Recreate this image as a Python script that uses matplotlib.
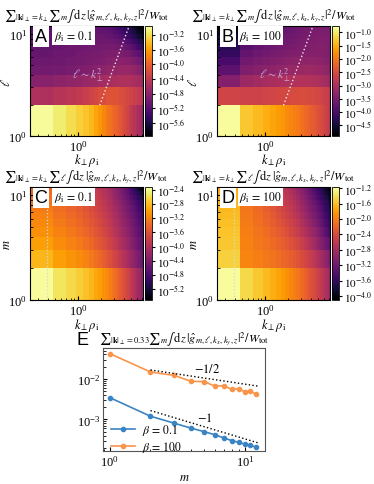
import numpy as np
import matplotlib
matplotlib.use("Agg")
from matplotlib import pyplot as plt
from matplotlib.colors import LogNorm
from matplotlib import ticker

plt.rcParams['font.family'] = 'serif'
plt.rcParams['font.serif'] = ['Liberation Serif', 'DejaVu Serif']
plt.rcParams['mathtext.fontset'] = 'stix'

# ---- grid of the heat maps (cell edges) ----
dk = 0.2333
k_edges = dk * np.arange(1, 32)        # k_perp rho_i, 30 columns
row_edges = np.arange(1, 13)            # ell or m, 11 rows
k_mark = 0.395                          # dotted marker of the k used in panel E

# ---- panel A : beta_i = 0.1, ell vs k (log10 of spectrum), rows ell=1..11 ----
A_log = [
    [-3.0,-3.12,-3.22,-3.3,-3.38,-3.45,-3.55,-3.65,-3.75,-3.85,-3.9,-3.95,-4.0,-4.05,-4.1,-4.15,-4.2,-4.25,-4.3,-4.35,-4.4,-4.45,-4.5,-4.5,-4.55,-4.6,-4.6,-4.65,-4.7,-4.75],
    [-4.55,-4.5,-4.45,-4.4,-4.35,-4.3,-4.25,-4.2,-4.2,-4.15,-4.15,-4.15,-4.15,-4.15,-4.2,-4.2,-4.2,-4.25,-4.25,-4.3,-4.3,-4.3,-4.35,-4.35,-4.35,-4.4,-4.4,-4.4,-4.45,-4.45],
    [-4.85,-4.8,-4.78,-4.75,-4.72,-4.7,-4.68,-4.65,-4.62,-4.6,-4.6,-4.58,-4.58,-4.55,-4.55,-4.55,-4.55,-4.55,-4.55,-4.55,-4.55,-4.58,-4.58,-4.6,-4.6,-4.62,-4.62,-4.65,-4.65,-4.68],
    [-5.0,-4.98,-4.95,-4.92,-4.9,-4.88,-4.85,-4.83,-4.8,-4.78,-4.77,-4.75,-4.75,-4.74,-4.73,-4.72,-4.72,-4.72,-4.72,-4.73,-4.74,-4.75,-4.76,-4.78,-4.8,-4.82,-4.84,-4.86,-4.88,-4.9],
    [-5.05,-5.02,-5.0,-4.98,-4.96,-4.95,-4.93,-4.92,-4.9,-4.88,-4.87,-4.86,-4.85,-4.85,-4.85,-4.85,-4.85,-4.85,-4.86,-4.87,-4.88,-4.9,-4.92,-4.94,-4.96,-4.98,-5.0,-5.02,-5.05,-5.08],
    [-5.08,-5.05,-5.03,-5.0,-4.98,-4.97,-4.96,-4.95,-4.94,-4.93,-4.92,-4.92,-4.92,-4.92,-4.93,-4.94,-4.95,-4.96,-4.98,-5.0,-5.02,-5.05,-5.08,-5.1,-5.12,-5.15,-5.18,-5.2,-5.22,-5.25],
    [-5.1,-5.08,-5.05,-5.03,-5.02,-5.0,-5.0,-4.99,-4.98,-4.98,-4.98,-4.98,-4.99,-5.0,-5.02,-5.04,-5.06,-5.08,-5.1,-5.13,-5.16,-5.2,-5.23,-5.26,-5.3,-5.33,-5.36,-5.4,-5.43,-5.46],
    [-5.12,-5.1,-5.08,-5.06,-5.05,-5.04,-5.03,-5.02,-5.02,-5.02,-5.03,-5.04,-5.06,-5.08,-5.1,-5.13,-5.16,-5.2,-5.23,-5.27,-5.3,-5.34,-5.38,-5.42,-5.45,-5.48,-5.52,-5.55,-5.58,-5.6],
    [-5.14,-5.12,-5.1,-5.08,-5.07,-5.06,-5.06,-5.06,-5.07,-5.08,-5.1,-5.12,-5.15,-5.18,-5.21,-5.25,-5.29,-5.33,-5.37,-5.41,-5.45,-5.49,-5.53,-5.57,-5.6,-5.64,-5.67,-5.7,-5.73,-5.76],
    [-5.16,-5.14,-5.12,-5.1,-5.1,-5.1,-5.1,-5.11,-5.12,-5.14,-5.16,-5.19,-5.22,-5.26,-5.3,-5.34,-5.38,-5.42,-5.46,-5.5,-5.54,-5.58,-5.62,-5.66,-5.7,-5.73,-5.77,-5.8,-5.83,-5.86],
    [-5.18,-5.16,-5.14,-5.13,-5.13,-5.13,-5.14,-5.15,-5.17,-5.19,-5.22,-5.25,-5.29,-5.33,-5.37,-5.41,-5.45,-5.5,-5.54,-5.58,-5.62,-5.66,-5.7,-5.74,-5.78,-5.82,-5.85,-5.88,-5.91,-5.94],
]

# ---- panel B : beta_i = 100, ell vs k ----
B_log = [
    [-0.8,-1.3,-1.42,-1.52,-1.6,-1.67,-1.73,-1.8,-1.86,-1.92,-1.97,-2.02,-2.07,-2.12,-2.17,-2.21,-2.25,-2.29,-2.33,-2.37,-2.41,-2.45,-2.49,-2.53,-2.57,-2.6,-2.64,-2.68,-2.72,-2.76],
    [-2.6,-2.62,-2.62,-2.6,-2.58,-2.56,-2.55,-2.53,-2.52,-2.5,-2.5,-2.49,-2.49,-2.49,-2.5,-2.5,-2.51,-2.52,-2.53,-2.55,-2.56,-2.58,-2.6,-2.62,-2.64,-2.66,-2.68,-2.7,-2.72,-2.74],
    [-3.4,-3.15,-3.1,-3.05,-3.02,-3.0,-2.98,-2.96,-2.95,-2.94,-2.93,-2.92,-2.92,-2.92,-2.92,-2.93,-2.94,-2.95,-2.96,-2.97,-2.98,-3.0,-3.01,-3.03,-3.04,-3.06,-3.08,-3.1,-3.12,-3.14],
    [-3.8,-3.45,-3.38,-3.33,-3.3,-3.27,-3.25,-3.23,-3.21,-3.2,-3.19,-3.18,-3.17,-3.16,-3.16,-3.16,-3.16,-3.16,-3.17,-3.18,-3.19,-3.2,-3.21,-3.22,-3.23,-3.25,-3.27,-3.29,-3.31,-3.33],
    [-4.0,-3.6,-3.52,-3.47,-3.43,-3.4,-3.38,-3.36,-3.34,-3.33,-3.32,-3.31,-3.3,-3.3,-3.29,-3.29,-3.29,-3.29,-3.3,-3.3,-3.31,-3.32,-3.33,-3.34,-3.35,-3.36,-3.38,-3.4,-3.42,-3.44],
    [-4.2,-3.75,-3.65,-3.6,-3.55,-3.52,-3.5,-3.48,-3.46,-3.45,-3.44,-3.43,-3.42,-3.41,-3.4,-3.4,-3.39,-3.39,-3.39,-3.39,-3.39,-3.39,-3.4,-3.4,-3.41,-3.42,-3.43,-3.44,-3.45,-3.46],
    [-4.3,-3.85,-3.75,-3.68,-3.63,-3.6,-3.57,-3.55,-3.53,-3.51,-3.5,-3.49,-3.48,-3.47,-3.46,-3.45,-3.44,-3.43,-3.43,-3.42,-3.42,-3.42,-3.42,-3.42,-3.42,-3.43,-3.43,-3.44,-3.45,-3.46],
    [-4.4,-3.92,-3.82,-3.75,-3.7,-3.66,-3.63,-3.6,-3.58,-3.56,-3.54,-3.52,-3.51,-3.5,-3.49,-3.48,-3.47,-3.46,-3.45,-3.45,-3.44,-3.44,-3.44,-3.44,-3.44,-3.44,-3.45,-3.45,-3.46,-3.47],
    [-4.55,-4.0,-3.88,-3.8,-3.75,-3.71,-3.68,-3.65,-3.62,-3.6,-3.58,-3.56,-3.55,-3.53,-3.52,-3.51,-3.5,-3.49,-3.48,-3.47,-3.47,-3.46,-3.46,-3.46,-3.46,-3.46,-3.46,-3.47,-3.47,-3.48],
    [-4.7,-4.08,-3.95,-3.86,-3.8,-3.75,-3.72,-3.69,-3.66,-3.64,-3.62,-3.6,-3.58,-3.56,-3.55,-3.54,-3.53,-3.52,-3.51,-3.5,-3.49,-3.49,-3.48,-3.48,-3.48,-3.48,-3.48,-3.48,-3.49,-3.49],
    [-4.85,-4.15,-4.0,-3.92,-3.85,-3.8,-3.76,-3.72,-3.69,-3.67,-3.65,-3.63,-3.61,-3.59,-3.58,-3.57,-3.56,-3.55,-3.54,-3.53,-3.52,-3.51,-3.51,-3.5,-3.5,-3.5,-3.5,-3.5,-3.5,-3.51],
]

# ---- panel C : beta_i = 0.1, m vs k ----
C_log = [
    [-2.35,-2.55,-2.63,-2.7,-2.77,-2.85,-2.93,-3.0,-3.08,-3.15,-3.22,-3.29,-3.36,-3.43,-3.5,-3.56,-3.62,-3.68,-3.74,-3.8,-3.86,-3.91,-3.96,-4.01,-4.06,-4.11,-4.16,-4.2,-4.24,-4.28],
    [-2.85,-3.0,-3.07,-3.13,-3.2,-3.27,-3.34,-3.41,-3.48,-3.55,-3.62,-3.68,-3.74,-3.8,-3.86,-3.92,-3.98,-4.03,-4.08,-4.13,-4.18,-4.23,-4.28,-4.32,-4.36,-4.4,-4.44,-4.48,-4.52,-4.56],
    [-3.0,-3.12,-3.19,-3.26,-3.33,-3.4,-3.47,-3.54,-3.61,-3.68,-3.75,-3.81,-3.87,-3.93,-3.99,-4.05,-4.1,-4.15,-4.2,-4.25,-4.3,-4.35,-4.4,-4.44,-4.48,-4.52,-4.56,-4.6,-4.64,-4.68],
    [-3.1,-3.2,-3.27,-3.34,-3.41,-3.48,-3.55,-3.62,-3.69,-3.76,-3.83,-3.89,-3.95,-4.01,-4.07,-4.13,-4.18,-4.23,-4.28,-4.33,-4.38,-4.43,-4.48,-4.52,-4.56,-4.6,-4.64,-4.68,-4.72,-4.76],
    [-3.15,-3.26,-3.33,-3.4,-3.47,-3.54,-3.61,-3.68,-3.75,-3.82,-3.89,-3.95,-4.01,-4.07,-4.13,-4.19,-4.24,-4.29,-4.34,-4.39,-4.44,-4.49,-4.54,-4.58,-4.62,-4.66,-4.7,-4.74,-4.78,-4.82],
    [-3.2,-3.31,-3.38,-3.45,-3.52,-3.59,-3.66,-3.73,-3.8,-3.87,-3.94,-4.0,-4.06,-4.12,-4.18,-4.24,-4.3,-4.35,-4.4,-4.45,-4.5,-4.55,-4.6,-4.64,-4.68,-4.72,-4.76,-4.8,-4.84,-4.88],
    [-3.25,-3.36,-3.43,-3.5,-3.57,-3.64,-3.71,-3.78,-3.85,-3.92,-3.99,-4.05,-4.11,-4.17,-4.23,-4.29,-4.35,-4.4,-4.46,-4.51,-4.56,-4.61,-4.66,-4.7,-4.75,-4.79,-4.83,-4.87,-4.91,-4.95],
    [-3.3,-3.4,-3.47,-3.54,-3.61,-3.68,-3.75,-3.82,-3.89,-3.96,-4.03,-4.1,-4.16,-4.22,-4.28,-4.34,-4.4,-4.46,-4.52,-4.57,-4.62,-4.67,-4.72,-4.77,-4.82,-4.86,-4.9,-4.95,-5.0,-5.04],
    [-3.33,-3.44,-3.51,-3.58,-3.65,-3.72,-3.79,-3.86,-3.93,-4.0,-4.07,-4.14,-4.21,-4.27,-4.33,-4.4,-4.46,-4.52,-4.58,-4.64,-4.7,-4.75,-4.8,-4.85,-4.9,-4.95,-5.0,-5.05,-5.1,-5.15],
    [-3.36,-3.47,-3.54,-3.61,-3.68,-3.75,-3.82,-3.89,-3.96,-4.03,-4.1,-4.17,-4.24,-4.31,-4.38,-4.45,-4.51,-4.57,-4.64,-4.7,-4.76,-4.82,-4.88,-4.94,-5.0,-5.06,-5.12,-5.18,-5.24,-5.3],
    [-3.4,-3.5,-3.57,-3.64,-3.71,-3.78,-3.85,-3.92,-3.99,-4.06,-4.13,-4.2,-4.27,-4.34,-4.41,-4.48,-4.55,-4.62,-4.69,-4.76,-4.83,-4.9,-4.97,-5.04,-5.11,-5.18,-5.25,-5.32,-5.39,-5.46],
]

# ---- panel D : beta_i = 100, m vs k ----
D_log = [
    [-1.2,-1.45,-1.55,-1.63,-1.7,-1.76,-1.82,-1.88,-1.94,-2.0,-2.05,-2.1,-2.15,-2.2,-2.25,-2.3,-2.34,-2.38,-2.42,-2.46,-2.5,-2.54,-2.58,-2.62,-2.66,-2.7,-2.74,-2.78,-2.82,-2.86],
    [-1.5,-1.95,-2.0,-2.04,-2.08,-2.12,-2.16,-2.2,-2.24,-2.28,-2.32,-2.36,-2.4,-2.44,-2.48,-2.52,-2.56,-2.6,-2.64,-2.68,-2.72,-2.76,-2.8,-2.84,-2.88,-2.92,-2.96,-3.0,-3.04,-3.08],
    [-1.55,-1.98,-2.04,-2.09,-2.14,-2.19,-2.24,-2.29,-2.34,-2.39,-2.44,-2.49,-2.54,-2.59,-2.64,-2.69,-2.74,-2.79,-2.84,-2.89,-2.94,-2.99,-3.04,-3.08,-3.12,-3.16,-3.2,-3.24,-3.28,-3.32],
    [-1.58,-2.0,-2.07,-2.13,-2.19,-2.25,-2.31,-2.37,-2.43,-2.49,-2.55,-2.6,-2.65,-2.7,-2.75,-2.8,-2.85,-2.9,-2.95,-3.0,-3.05,-3.1,-3.15,-3.2,-3.25,-3.3,-3.35,-3.4,-3.44,-3.48],
    [-1.6,-2.02,-2.1,-2.17,-2.24,-2.31,-2.37,-2.43,-2.49,-2.55,-2.61,-2.67,-2.73,-2.79,-2.85,-2.9,-2.95,-3.0,-3.05,-3.1,-3.15,-3.2,-3.25,-3.3,-3.35,-3.4,-3.45,-3.5,-3.55,-3.6],
    [-1.62,-2.04,-2.12,-2.2,-2.28,-2.35,-2.42,-2.49,-2.56,-2.62,-2.68,-2.74,-2.8,-2.86,-2.92,-2.97,-3.02,-3.07,-3.12,-3.17,-3.22,-3.27,-3.32,-3.37,-3.42,-3.47,-3.52,-3.57,-3.62,-3.67],
    [-1.64,-2.06,-2.15,-2.23,-2.31,-2.39,-2.46,-2.53,-2.6,-2.67,-2.74,-2.8,-2.86,-2.92,-2.98,-3.04,-3.09,-3.14,-3.19,-3.24,-3.29,-3.34,-3.39,-3.44,-3.49,-3.54,-3.59,-3.64,-3.69,-3.74],
    [-1.66,-2.08,-2.17,-2.26,-2.34,-2.42,-2.5,-2.57,-2.64,-2.71,-2.78,-2.85,-2.91,-2.97,-3.03,-3.09,-3.15,-3.21,-3.26,-3.31,-3.36,-3.41,-3.46,-3.51,-3.56,-3.61,-3.66,-3.71,-3.76,-3.81],
    [-1.68,-2.1,-2.2,-2.29,-2.38,-2.46,-2.54,-2.61,-2.68,-2.75,-2.82,-2.89,-2.96,-3.02,-3.08,-3.14,-3.2,-3.26,-3.32,-3.38,-3.44,-3.49,-3.54,-3.59,-3.64,-3.69,-3.74,-3.79,-3.84,-3.89],
    [-1.7,-2.12,-2.22,-2.32,-2.41,-2.49,-2.57,-2.65,-2.72,-2.79,-2.86,-2.93,-3.0,-3.07,-3.14,-3.2,-3.26,-3.32,-3.38,-3.44,-3.5,-3.56,-3.62,-3.67,-3.72,-3.77,-3.82,-3.87,-3.92,-3.97],
    [-1.72,-2.15,-2.25,-2.35,-2.44,-2.52,-2.6,-2.68,-2.76,-2.84,-2.91,-2.98,-3.05,-3.12,-3.19,-3.26,-3.33,-3.39,-3.45,-3.51,-3.57,-3.63,-3.69,-3.74,-3.79,-3.84,-3.89,-3.94,-3.99,-4.04],
]

# colour ranges (log10) and colourbar tick exponents
A_range, A_ticks = (-5.95, -2.96), [-3.2, -3.6, -4.0, -4.4, -4.8, -5.2, -5.6]
B_range, B_ticks = (-4.9, -0.76), [-1.0, -1.5, -2.0, -2.5, -3.0, -3.5, -4.0, -4.5]
C_range, C_ticks = (-5.5, -2.32), [-2.4, -2.8, -3.2, -3.6, -4.0, -4.4, -4.8, -5.2]
D_range, D_ticks = (-4.1, -1.17), [-1.2, -1.6, -2.0, -2.4, -2.8, -3.2, -3.6, -4.0]

# ---- panel E : m spectrum at |k|_perp = 0.33 ----
m_vals = [1, 2, 3, 4, 5, 6, 7, 8, 9, 10, 11, 12]
spec_b01 = [3.45e-3, 1.2e-3, 8.1e-4, 6.1e-4, 5.0e-4, 4.2e-4, 3.5e-4, 3.0e-4, 2.75e-4, 2.45e-4, 2.3e-4, 2.1e-4]
spec_b100 = [0.042, 0.0148, 0.0122, 0.0087, 0.0086, 0.0066, 0.0068, 0.0055, 0.0057, 0.0048, 0.0051, 0.0042]

W, H = 374, 485
fig = plt.figure(figsize=(W / 100, H / 100), dpi=100)


def rect(x0, y0, x1, y1):
    return [x0 / W, 1 - y1 / H, (x1 - x0) / W, (y1 - y0) / H]


def fmt_exp(v, pos=None):
    return r'$10^{%.1f}$' % np.log10(v)


g_hat = r'\,\mathrm{d}z\,|\hat{g}_{m,\ell,k_x,k_y,z}|^2/W_\mathrm{tot}$'
title_l = r'${\sum}_{|\mathbf{k}|_\perp=k_\perp}{\sum}_m\int' + g_hat
title_m = r'${\sum}_{|\mathbf{k}|_\perp=k_\perp}{\sum}_\ell\int' + g_hat
title_e = r'${\sum}_{|\mathbf{k}|_\perp=0.33}{\sum}_m\int' + g_hat
TFS = 8.8

panels = [
    ('A', A_log, A_range, A_ticks, r'$\beta_\mathrm{i}\,=\,0.1$', title_l, r'$\ell$', (30, 27, 143, 137), 1.94),
    ('B', B_log, B_range, B_ticks, r'$\beta_\mathrm{i}\,=\,100$', title_l, r'$\ell$', (217, 27, 330, 137), 1.76),
    ('C', C_log, C_range, C_ticks, r'$\beta_\mathrm{i}\,=\,0.1$', title_m, r'$m$', (30, 188, 143, 301), None),
    ('D', D_log, D_range, D_ticks, r'$\beta_\mathrm{i}\,=\,100$', title_m, r'$m$', (217, 188, 330, 301), None),
]

for lab, vals, rng, cticks, btxt, ttl, ylab, (x0, y0, x1, y1), k_line in panels:
    ax = fig.add_axes(rect(x0, y0, x1, y1))
    cax = fig.add_axes(rect(x1 + 2, y0, x1 + 9, y1))
    Z = 10.0 ** np.array(vals)
    pc = ax.pcolormesh(k_edges, row_edges, Z, cmap='inferno',
                       norm=LogNorm(10 ** rng[0], 10 ** rng[1]))
    ax.set_xscale('log')
    ax.set_yscale('log')
    ax.set_xlim(k_edges[0], k_edges[-1])
    ax.set_ylim(row_edges[0], row_edges[-1])
    ax.tick_params(which='both', direction='in', labelsize=9, pad=2)
    ax.tick_params(which='major', length=3)
    ax.tick_params(which='minor', length=1.8)
    ax.xaxis.set_minor_formatter(ticker.NullFormatter())
    ax.yaxis.set_minor_formatter(ticker.NullFormatter())
    ax.set_xlabel(r'$k_\perp\rho_\mathrm{i}$', fontsize=9)
    ax.xaxis.set_label_coords(0.5, -0.14)
    ax.set_ylabel(ylab, fontsize=9)
    ax.yaxis.set_label_coords(-0.15, 0.5)
    ax.set_title(ttl, fontsize=TFS, pad=5)

    if k_line is not None:
        kk = np.linspace(k_line, k_line * np.sqrt(6.0), 20)
        ax.plot(kk, 2.0 * (kk / k_line) ** 2, ls=':', color='#f0e8f0', lw=1)
        ax.text(0.51, 0.565, r'$\ell\sim k_\perp^2$', transform=ax.transAxes,
                color='#c8a8d8', fontsize=8.5, ha='center', va='center')
    else:
        ax.axvline(k_mark, ls=':', color='#d8d8d8', lw=0.9)

    ax.text(0.097, 0.905, lab, transform=ax.transAxes, fontsize=13,
            family='Liberation Sans', ha='center', va='center',
            bbox=dict(fc='white', ec='none', pad=1.2))
    ax.text(0.385, 0.914, btxt, transform=ax.transAxes, fontsize=8.5,
            ha='center', va='center', bbox=dict(fc='white', ec='none', pad=1.2))

    cb = fig.colorbar(pc, cax=cax)
    cb.set_ticks([10 ** t for t in cticks])
    cb.ax.yaxis.set_major_formatter(ticker.FuncFormatter(fmt_exp))
    cb.ax.yaxis.set_minor_locator(ticker.NullLocator())
    cb.ax.tick_params(labelsize=8, length=2, pad=1.5)
    cb.outline.set_linewidth(0.6)

# ---- panel E ----
axE = fig.add_axes(rect(103, 349, 265, 452))
axE.plot(m_vals, spec_b01, '-o', color='#3b84c4', ms=3, lw=1.2, label=r'$\beta\,=\,0.1$')
axE.plot(m_vals, spec_b100, '-o', color='#f9954a', ms=3, lw=1.2, label=r'$\beta\,=\,100$')
mm = np.array([2.0, 12.5])
axE.plot(mm, 0.0166 * (mm / 2) ** -0.5, ls=':', color='k', lw=1)
axE.plot(mm, 0.00166 * (mm / 2) ** -1.0, ls=':', color='k', lw=1)
axE.text(5.3, 0.0178, r'$-1/2$', fontsize=9, ha='center', va='center')
axE.text(5.05, 0.00115, r'$-1$', fontsize=9, ha='center', va='center')
axE.set_xscale('log')
axE.set_yscale('log')
axE.set_xlim(0.89, 14.1)
axE.set_ylim(1.67e-4, 5.78e-2)
axE.tick_params(which='both', direction='in', labelsize=9, pad=2)
axE.tick_params(which='major', length=3)
axE.tick_params(which='minor', length=1.8)
axE.xaxis.set_minor_formatter(ticker.NullFormatter())
axE.yaxis.set_minor_formatter(ticker.NullFormatter())
axE.set_xlabel(r'$m$', fontsize=9, labelpad=2)
for s in axE.spines.values():
    s.set_color('#555555')
axE.legend(loc='lower left', bbox_to_anchor=(0.03, -0.06), frameon=False,
           fontsize=8.5, handlelength=2, handletextpad=0.6,
           borderaxespad=0.0, borderpad=0.3, labelspacing=0.1)
axE.set_title(title_e, fontsize=TFS, pad=4)
fig.text(82 / W, 1 - 341 / H, 'E', fontsize=13, family='Liberation Sans',
         ha='center', va='center')

fig.savefig('out.png', dpi=100)
